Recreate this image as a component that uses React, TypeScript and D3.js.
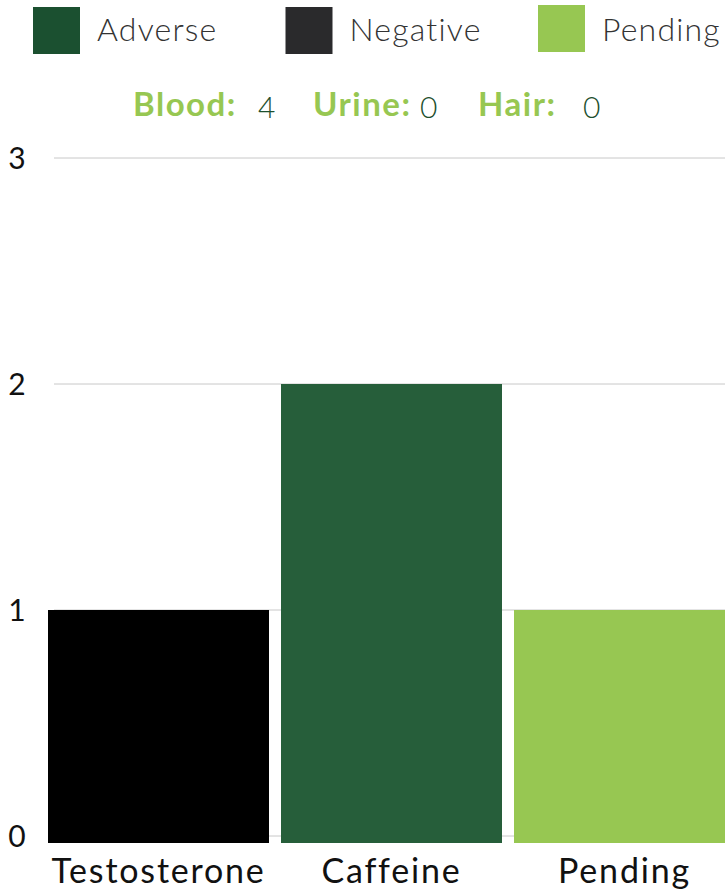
import React, { useRef, useEffect } from 'react';
import * as d3 from 'd3';

const categories = ['Testosterone', 'Caffeine', 'Pending'];
const values = [1, 2, 1];
const barColors = ['#000000', '#265e3a', '#97c752'];

const legendLabels = ['Adverse', 'Negative', 'Pending'];
const legendColors = ['#1b5030', '#2a2a2c', '#97c752'];

const sampleLabels = ['Blood:', 'Urine:', 'Hair:'];
const sampleCounts = [4, 0, 0];

const yTicks = [0, 1, 2, 3];

const W = 725;
const H = 889;
const FONT = 'Lato, "Open Sans", sans-serif';

const App: React.FC = () => {
    const svgRef = useRef<SVGSVGElement>(null);

    useEffect(() => {
        if (!svgRef.current) return;
        const svg = d3.select(svgRef.current);
        svg.selectAll('*').remove();

        const y = d3.scaleLinear().domain([0, 3]).range([836, 158]);
        const x = d3.scaleBand<string>()
            .domain(categories)
            .range([48, 735])
            .paddingInner(12 / 233)
            .paddingOuter(0);

        // Legend
        const legendX = d3.scalePoint<string>().domain(legendLabels).range([33, 538]);
        const legend = svg.append('g');
        legendLabels.forEach((label, i) => {
            const lx = legendX(label) as number;
            legend.append('rect')
                .attr('x', lx)
                .attr('y', i === 2 ? 5 : 7)
                .attr('width', 47)
                .attr('height', 47)
                .attr('fill', legendColors[i]);
            legend.append('text')
                .attr('x', lx + 64)
                .attr('y', 41)
                .attr('font-family', FONT)
                .attr('font-size', 32)
                .attr('font-weight', 300)
                .attr('letter-spacing', 1.2)
                .attr('fill', '#333')
                .text(label);
        });

        // Sample counts
        const sampleX = [133, 313, 478];
        const countX = [258, 420, 583];
        sampleLabels.forEach((label, i) => {
            svg.append('text')
                .attr('x', sampleX[i])
                .attr('y', 116)
                .attr('font-family', FONT)
                .attr('font-size', 33)
                .attr('font-weight', 'bold')
                .attr('letter-spacing', 1.5)
                .attr('fill', '#97c752')
                .text(label);
            svg.append('text')
                .attr('x', countX[i])
                .attr('y', 118)
                .attr('font-family', FONT)
                .attr('font-size', 30)
                .attr('font-weight', 300)
                .attr('fill', '#1d4f2e')
                .text(sampleCounts[i]);
        });

        // Grid lines + y labels
        const grid = svg.append('g');
        yTicks.forEach(t => {
            grid.append('line')
                .attr('x1', 54)
                .attr('x2', W)
                .attr('y1', y(t))
                .attr('y2', y(t))
                .attr('stroke', '#c8c8c8')
                .attr('stroke-width', 1);
            grid.append('text')
                .attr('x', 17)
                .attr('y', y(t))
                .attr('dy', '0.35em')
                .attr('text-anchor', 'middle')
                .attr('font-family', FONT)
                .attr('font-size', 30)
                .attr('fill', '#111')
                .text(t);
        });

        // Bars
        categories.forEach((c, i) => {
            svg.append('rect')
                .attr('x', x(c) as number)
                .attr('y', y(values[i]))
                .attr('width', x.bandwidth())
                .attr('height', y(0) - y(values[i]) + 7)
                .attr('fill', barColors[i]);
            svg.append('text')
                .attr('x', (x(c) as number) + x.bandwidth() / 2)
                .attr('y', 883)
                .attr('text-anchor', 'middle')
                .attr('font-family', FONT)
                .attr('font-size', 34)
                .attr('letter-spacing', 1.8)
                .attr('fill', '#111')
                .text(c);
        });
    }, []);

    return (
        <div style={{ position: 'absolute', left: 0, top: 0, width: W, height: H, overflow: 'hidden', background: '#fff' }}>
            <svg ref={svgRef} width={W} height={H} />
        </div>
    );
};

export default App;
